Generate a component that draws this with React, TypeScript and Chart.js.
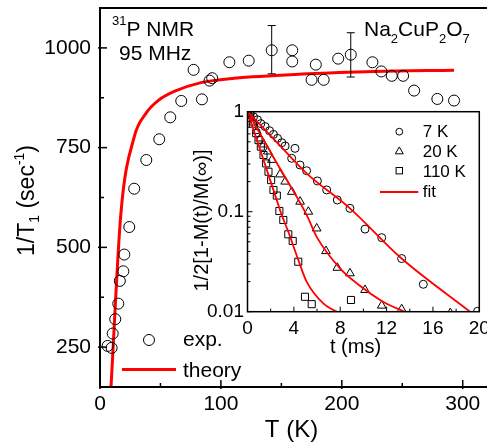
import React, { useEffect, useRef } from "react";
import { Chart, registerables } from "chart.js";
Chart.register(...registerables);

const FONT = '"Liberation Sans", Arial, Helvetica, sans-serif';

// ---------- main plot data ----------
const tempK = [6.3, 9.6, 10.5, 12.6, 15.1, 16.4, 19.3, 20.1, 24.2, 28.3, 38.3, 49.0, 58.1, 67.2, 77.4, 84.3, 90.6, 92.8, 107, 123, 142, 159, 159, 175, 178.5, 185, 197, 207.4, 225.3, 232.7, 241.3, 250.7, 259.8, 279, 292.8];
const rateExp = [253, 248, 284, 320, 359, 416, 440, 482, 551, 647, 719, 771, 826, 867, 945, 871, 918, 924, 964, 968, 994, 994, 966, 920, 958, 920, 973, 983, 964, 941, 930, 930, 893, 872, 868];
const errT = [142, 207.4];
const errLow = [935, 927];
const errHigh = [1056, 1038];
const theoryT = [9.1, 17.2, 28.3, 38, 49, 61.4, 83.5, 111, 171.6, 226.7, 292.8];
const theoryRate = [150, 582, 777, 836, 870, 891, 913, 924, 935, 941, 944];
const mainXTicks = [0, 100, 200, 300];
const mainXMinor = [50, 150, 250];
const mainYTicks = [250, 500, 750, 1000];
const mainYMinor = [375, 625, 875];

// ---------- inset data ----------
const t7 = [0, 0.23, 0.52, 0.86, 1.15, 1.52, 1.9, 2.24, 2.59, 2.96, 3.25, 3.81, 4.1, 4.53, 5.1, 6.03, 6.83, 7.75, 8.84, 10.14, 11.58, 13.3, 15.17, 19.85];
const m7 = [1, 0.95, 0.89, 0.83, 0.76, 0.71, 0.645, 0.593, 0.541, 0.49, 0.454, 0.342, 0.43, 0.293, 0.257, 0.203, 0.165, 0.131, 0.108, 0.067, 0.055, 0.034, 0.0188, 0.0101];
const t20 = [0, 0.25, 0.5, 0.8, 1.1, 1.4, 1.75, 2.1, 2.8, 3.25, 3.82, 4.54, 5.25, 5.97, 6.77, 7.75, 8.84, 10.14, 11.58, 13.3, 17.5];
const m20 = [1, 0.9, 0.78, 0.64, 0.54, 0.47, 0.4, 0.33, 0.236, 0.2, 0.158, 0.126, 0.1, 0.068, 0.0404, 0.0275, 0.0242, 0.0165, 0.0115, 0.0106, 0.0097];
const t110 = [0, 0.23, 0.46, 0.75, 0.95, 1.15, 1.38, 1.61, 1.81, 2.04, 2.24, 2.53, 2.75, 3.09, 3.52, 3.9, 4.38, 4.96, 5.54, 8.93];
const m110 = [1, 0.93, 0.76, 0.61, 0.52, 0.447, 0.369, 0.304, 0.251, 0.207, 0.165, 0.145, 0.1016, 0.0826, 0.0594, 0.051, 0.0316, 0.0141, 0.0119, 0.0131];
const fit7T = [0, 2.5, 5.1, 8.84, 13.3, 19.2];
const fit7M = [1, 0.5, 0.242, 0.108, 0.034, 0.01];
const fit20T = [0, 2.5, 5.1, 5.97, 8.0, 9.7, 11.7, 13.8];
const fit20M = [1, 0.31, 0.093, 0.056, 0.027, 0.0182, 0.0126, 0.0097];
const fit110T = [0, 1.5, 2.66, 2.95, 3.52, 4.38, 5.1, 6.54, 8.0];
const fit110M = [1, 0.3, 0.117, 0.093, 0.063, 0.033, 0.02, 0.0121, 0.0096];
const insetXTicks = [0, 4, 8, 12, 16, 20];
const insetXMinor = [2, 6, 10, 14, 18];
const insetYTicks = [0.01, 0.1, 1];

type Part = { t: string; size: number; dy?: number };
function setFont(ctx: CanvasRenderingContext2D, size: number) {
  ctx.font = `${size}px ${FONT}`;
}
function partsWidth(ctx: CanvasRenderingContext2D, parts: Part[]) {
  let w = 0;
  for (const p of parts) {
    setFont(ctx, p.size);
    w += ctx.measureText(p.t).width;
  }
  return w;
}
function drawParts(ctx: CanvasRenderingContext2D, x: number, y: number, parts: Part[]) {
  let cx = x;
  for (const p of parts) {
    setFont(ctx, p.size);
    ctx.fillText(p.t, cx, y + (p.dy ?? 0));
    cx += ctx.measureText(p.t).width;
  }
}
function line(ctx: CanvasRenderingContext2D, x1: number, y1: number, x2: number, y2: number) {
  ctx.beginPath();
  ctx.moveTo(x1, y1);
  ctx.lineTo(x2, y2);
  ctx.stroke();
}
function triangle(ctx: CanvasRenderingContext2D, x: number, y: number, r: number) {
  ctx.beginPath();
  ctx.moveTo(x, y - r);
  ctx.lineTo(x + r * 0.866, y + r * 0.5);
  ctx.lineTo(x - r * 0.866, y + r * 0.5);
  ctx.closePath();
  ctx.stroke();
}
function noPad(s: any) {
  s.paddingTop = 0;
  s.paddingBottom = 0;
  s.paddingLeft = 0;
  s.paddingRight = 0;
}

const mainDecor = {
  id: "mainDecor",
  afterDraw(chart: any) {
    const { ctx, chartArea: a, scales } = chart;
    const xs = scales.x, ys = scales.y;
    ctx.save();
    ctx.strokeStyle = "#000";
    ctx.fillStyle = "#000";
    // error bars
    ctx.lineWidth = 1;
    errT.forEach((t, i) => {
      const px = xs.getPixelForValue(t);
      const p1 = ys.getPixelForValue(errLow[i]);
      const p2 = ys.getPixelForValue(errHigh[i]);
      line(ctx, px, p1, px, p2);
      line(ctx, px - 4, p1, px + 4, p1);
      line(ctx, px - 4, p2, px + 4, p2);
    });
    // frame
    ctx.lineWidth = 2;
    ctx.strokeRect(a.left, a.top, a.right - a.left, a.bottom - a.top);
    // ticks
    ctx.lineWidth = 1.5;
    mainXTicks.forEach(v => { const p = xs.getPixelForValue(v); line(ctx, p, a.bottom + 2, p, a.bottom - 7); });
    mainXMinor.forEach(v => { const p = xs.getPixelForValue(v); line(ctx, p, a.bottom, p, a.bottom - 4); });
    mainYTicks.forEach(v => { const p = ys.getPixelForValue(v); line(ctx, a.left - 2, p, a.left + 7, p); });
    mainYMinor.forEach(v => { const p = ys.getPixelForValue(v); line(ctx, a.left, p, a.left + 4, p); });
    // annotations
    ctx.textAlign = "left";
    ctx.textBaseline = "alphabetic";
    drawParts(ctx, 112, 36, [{ t: "31", size: 13, dy: -11 }, { t: "P NMR", size: 21 }]);
    drawParts(ctx, 119, 59.5, [{ t: "95 MHz", size: 21 }]);
    drawParts(ctx, 364, 36, [
      { t: "Na", size: 21 }, { t: "2", size: 13, dy: 7 },
      { t: "CuP", size: 21 }, { t: "2", size: 13, dy: 7 },
      { t: "O", size: 21 }, { t: "7", size: 13, dy: 7 },
    ]);
    // legend
    ctx.lineWidth = 1;
    ctx.beginPath();
    ctx.arc(149, 340, 5.5, 0, Math.PI * 2);
    ctx.stroke();
    drawParts(ctx, 183, 345.5, [{ t: "exp.", size: 21 }]);
    ctx.strokeStyle = "#ff0000";
    ctx.lineWidth = 3;
    line(ctx, 122, 369.5, 176, 369.5);
    drawParts(ctx, 183, 377, [{ t: "theory", size: 21 }]);
    // axis titles
    const xt: Part[] = [{ t: "T (K)", size: 24 }];
    drawParts(ctx, 291.5 - partsWidth(ctx, xt) / 2, 436.5, xt);
    const yt: Part[] = [
      { t: "1/T", size: 23 }, { t: "1", size: 14, dy: 5 },
      { t: " (sec", size: 23 }, { t: "-1", size: 14, dy: -10 }, { t: ")", size: 23 },
    ];
    ctx.save();
    ctx.translate(34, 200.5);
    ctx.rotate(-Math.PI / 2);
    drawParts(ctx, -partsWidth(ctx, yt) / 2, 0, yt);
    ctx.restore();
    ctx.restore();
  },
};

const insetDecor = {
  id: "insetDecor",
  afterDraw(chart: any) {
    const { ctx, chartArea: a, scales } = chart;
    const xs = scales.x, ys = scales.y;
    ctx.save();
    ctx.strokeStyle = "#000";
    ctx.fillStyle = "#000";
    ctx.lineWidth = 1.5;
    ctx.strokeRect(a.left, a.top, a.right - a.left, a.bottom - a.top);
    ctx.lineWidth = 1;
    insetXTicks.forEach(v => { const p = xs.getPixelForValue(v); line(ctx, p, a.bottom, p, a.bottom - 5); });
    insetXMinor.forEach(v => { const p = xs.getPixelForValue(v); line(ctx, p, a.bottom, p, a.bottom - 3); });
    [0.01, 0.1].forEach(dec => {
      for (let k = 1; k <= 9; k++) {
        const p = ys.getPixelForValue(dec * k);
        line(ctx, a.left, p, a.left + (k === 1 ? 5 : 3), p);
      }
    });
    // legend
    const lx = 399.3 - 150;
    ctx.beginPath();
    ctx.arc(lx, 131.7 - 100, 3.4, 0, Math.PI * 2);
    ctx.stroke();
    triangle(ctx, lx, 151.5 - 100, 4.6);
    ctx.strokeRect(lx - 3.2, 170.7 - 100 - 3.2, 6.4, 6.4);
    ctx.strokeStyle = "#ff0000";
    ctx.lineWidth = 1.8;
    line(ctx, 380 - 150, 192 - 100, 418.3 - 150, 192 - 100);
    ctx.textAlign = "left";
    ctx.textBaseline = "alphabetic";
    const tx = 422.7 - 150;
    drawParts(ctx, tx, 137 - 100, [{ t: "7 K", size: 17 }]);
    drawParts(ctx, tx, 157 - 100, [{ t: "20 K", size: 17 }]);
    drawParts(ctx, tx, 177 - 100, [{ t: "110 K", size: 17 }]);
    drawParts(ctx, tx, 197 - 100, [{ t: "fit", size: 17 }]);
    // titles
    const xt: Part[] = [{ t: "t (ms)", size: 20 }];
    drawParts(ctx, 355.5 - 150 - partsWidth(ctx, xt) / 2, 353 - 100, xt);
    const yt: Part[] = [{ t: "1/2[1-M(t)/M(\u221E)]", size: 20 }];
    ctx.save();
    ctx.translate(208 - 150, 220.5 - 100);
    ctx.rotate(-Math.PI / 2);
    drawParts(ctx, -partsWidth(ctx, yt) / 2, 0, yt);
    ctx.restore();
    ctx.restore();
  },
};

function pts(xv: number[], yv: number[]) {
  return xv.map((x, i) => ({ x, y: yv[i] }));
}

export default function App() {
  const mainRef = useRef<HTMLCanvasElement>(null);
  const insetRef = useRef<HTMLCanvasElement>(null);

  useEffect(() => {
    const mainChart = new Chart(mainRef.current as HTMLCanvasElement, {
      type: "scatter",
      data: {
        datasets: [
          {
            label: "exp.",
            data: pts(tempK, rateExp),
            showLine: false,
            pointStyle: "circle",
            pointRadius: 5.5,
            pointBorderWidth: 1,
            borderColor: "#000",
            backgroundColor: "rgba(0,0,0,0)",
          },
          {
            label: "theory",
            data: pts(theoryT, theoryRate),
            showLine: true,
            pointRadius: 0,
            borderColor: "#ff0000",
            borderWidth: 3,
            cubicInterpolationMode: "monotone",
          },
        ],
      },
      options: {
        responsive: false,
        animation: false,
        events: [],
        layout: { padding: { left: 0, top: 8, right: 11, bottom: 0 } },
        plugins: { legend: { display: false }, tooltip: { enabled: false } },
        scales: {
          x: {
            type: "linear",
            min: 0,
            max: 330,
            grid: { display: false, drawTicks: false },
            border: { display: false },
            ticks: { font: { family: FONT, size: 21 }, color: "#000", padding: 5, callback: (v: any) => String(v) },
            afterBuildTicks: (s: any) => { s.ticks = mainXTicks.map(v => ({ value: v })); },
            afterFit: (s: any) => { s.height = 57; noPad(s); },
          },
          y: {
            type: "linear",
            min: 150,
            max: 1100,
            grid: { display: false, drawTicks: false },
            border: { display: false },
            ticks: { font: { family: FONT, size: 21 }, color: "#000", padding: 9, callback: (v: any) => String(v) },
            afterBuildTicks: (s: any) => { s.ticks = mainYTicks.map(v => ({ value: v })); },
            afterFit: (s: any) => { s.width = 100; noPad(s); },
          },
        },
      },
      plugins: [mainDecor],
    } as any);

    const marker = (label: string, tv: number[], mv: number[], style: string, r: number) => ({
      label,
      data: pts(tv, mv),
      showLine: false,
      pointStyle: style,
      pointRadius: r,
      pointBorderWidth: 1,
      borderColor: "#000",
      backgroundColor: "rgba(0,0,0,0)",
      clip: 0,
    });
    const fit = (label: string, tv: number[], mv: number[]) => ({
      label,
      data: pts(tv, mv),
      showLine: true,
      pointRadius: 0,
      borderColor: "#ff0000",
      borderWidth: 1.8,
      cubicInterpolationMode: "monotone",
      clip: 0,
    });

    const insetChart = new Chart(insetRef.current as HTMLCanvasElement, {
      type: "scatter",
      data: {
        datasets: [
          fit("fit 7 K", fit7T, fit7M),
          fit("fit 20 K", fit20T, fit20M),
          fit("fit 110 K", fit110T, fit110M),
          marker("7 K", t7, m7, "circle", 4),
          marker("20 K", t20, m20, "triangle", 5),
          marker("110 K", t110, m110, "rect", 5),
        ],
      },
      options: {
        responsive: false,
        animation: false,
        events: [],
        layout: { padding: { left: 0, top: 11.7, right: 7.7, bottom: 0 } },
        plugins: { legend: { display: false }, tooltip: { enabled: false } },
        scales: {
          x: {
            type: "linear",
            min: 0,
            max: 20,
            grid: { display: false, drawTicks: false },
            border: { display: false },
            ticks: { font: { family: FONT, size: 19 }, color: "#000", padding: 5.5, callback: (v: any) => String(v) },
            afterBuildTicks: (s: any) => { s.ticks = insetXTicks.map(v => ({ value: v })); },
            afterFit: (s: any) => { s.height = 58.3; noPad(s); },
          },
          y: {
            type: "logarithmic",
            min: 0.01,
            max: 1,
            grid: { display: false, drawTicks: false },
            border: { display: false },
            ticks: {
              font: { family: FONT, size: 19 },
              color: "#000",
              padding: 3.5,
              callback: (v: any) => String(v),
            },
            afterBuildTicks: (s: any) => { s.ticks = insetYTicks.map(v => ({ value: v })); },
            afterFit: (s: any) => { s.width = 97.5; noPad(s); },
          },
        },
      },
      plugins: [insetDecor],
    } as any);

    return () => {
      mainChart.destroy();
      insetChart.destroy();
    };
  }, []);

  return (
    <div style={{ position: "fixed", left: 0, top: 0, width: 487, height: 444, overflow: "hidden", background: "#fff" }}>
      <canvas ref={mainRef} width={510} height={444} style={{ position: "absolute", left: 0, top: 0, width: 510, height: 444 }} />
      <canvas ref={insetRef} width={337} height={270} style={{ position: "absolute", left: 150, top: 100, width: 337, height: 270 }} />
    </div>
  );
}
